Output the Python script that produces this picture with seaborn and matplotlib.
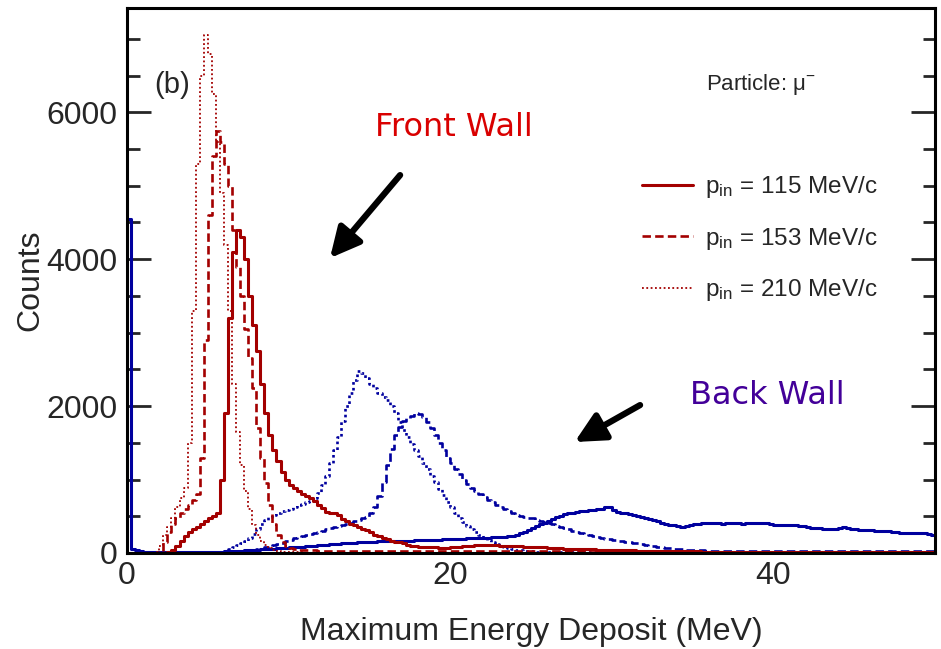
import numpy as np
import pandas as pd
import seaborn as sns
import matplotlib
matplotlib.use("Agg")
import matplotlib.pyplot as plt
from matplotlib.lines import Line2D
from matplotlib.ticker import MultipleLocator

# ---------------- data (counts per 0.25 MeV bin, 0 - 50 MeV) ----------------
BIN_WIDTH = 0.25
E_MAX = 50.0

front_115 = [
    0, 0, 0, 0, 0, 0, 0, 0, 0, 0, 10, 40, 100, 170, 230, 280, 330, 360, 400, 430,
    470, 500, 540, 1000, 1900, 3200, 4100, 4400, 4300, 4000, 3500, 3100, 2750, 2300, 1900, 1600, 1400, 1250, 1100, 1000,
    930, 880, 850, 810, 780, 750, 710, 660, 610, 560, 540, 550, 520, 460, 430, 400, 380, 360, 330, 310,
    280, 250, 230, 210, 190, 170, 155, 145, 130, 115, 100, 90, 85, 80, 80, 75, 75, 70, 70, 70,
    75, 80, 85, 90, 95, 100, 105, 110, 110, 110, 105, 105, 100, 100, 95, 95, 90, 90, 85, 85,
    80, 80, 75, 75, 70, 70, 65, 65, 60, 60, 55, 55, 55, 50, 50, 50, 45, 45, 45, 40,
    40, 40, 35, 35, 35, 35, 30, 30, 30, 30, 30, 25, 25, 25, 25, 25, 25, 25, 22, 22,
    22, 22, 20, 20, 20, 20, 20, 20, 18, 18, 18, 18, 18, 18, 16, 16, 16, 16, 15, 15,
    15, 15, 15, 15, 14, 14, 14, 14, 13, 13, 13, 13, 12, 12, 12, 12, 12, 12, 11, 11,
    11, 11, 10, 10, 10, 10, 10, 10, 9, 9, 9, 9, 8, 8, 8, 8, 8, 8, 7, 7,
]

front_153 = [
    0, 0, 0, 0, 0, 0, 0, 0, 30, 150, 280, 400, 480, 550, 600, 660, 720, 800, 1300, 2900,
    4600, 5400, 5750, 5600, 5300, 5000, 4400, 3900, 3500, 3050, 2650, 2250, 1700, 1300, 950, 650, 400, 250, 150, 100,
    70, 55, 45, 40, 38, 36, 35, 34, 33, 32, 32, 31, 31, 30, 30, 30, 30, 29, 29, 29,
    28, 28, 28, 28, 27, 27, 27, 27, 26, 26, 26, 26, 26, 25, 25, 25, 25, 25, 25, 25,
    25, 25, 24, 24, 24, 24, 24, 24, 24, 23, 23, 23, 23, 23, 23, 23, 22, 22, 22, 22,
    22, 22, 22, 22, 22, 21, 21, 21, 21, 21, 21, 21, 21, 20, 20, 20, 20, 20, 20, 20,
    20, 20, 20, 20, 20, 19, 19, 19, 19, 19, 19, 19, 19, 19, 19, 19, 18, 18, 18, 18,
    18, 18, 18, 18, 18, 18, 18, 18, 17, 17, 17, 17, 17, 17, 17, 17, 17, 17, 17, 17,
    16, 16, 16, 16, 16, 16, 16, 16, 16, 16, 16, 16, 15, 15, 15, 15, 15, 15, 15, 15,
    15, 15, 15, 15, 15, 15, 15, 15, 14, 14, 14, 14, 14, 14, 14, 14, 14, 14, 14, 14,
]

front_210 = [
    0, 0, 0, 0, 0, 0, 0, 20, 100, 250, 350, 480, 620, 750, 880, 1500, 3300, 5300, 6500, 7050,
    6800, 6250, 5600, 4900, 4200, 3300, 2300, 1650, 1200, 850, 600, 380, 250, 170, 110, 70, 40, 30, 20, 15,
    12, 10, 8, 8, 6, 6, 5, 5, 5, 4, 4, 4, 3, 3, 3, 3, 2, 2, 2, 2,
    2, 2, 2, 2, 1, 1, 1, 1, 1, 1, 1, 1, 1, 1, 1, 1, 1, 1, 1, 1,
    0, 0, 0, 0, 0, 0, 0, 0, 0, 0, 0, 0, 0, 0, 0, 0, 0, 0, 0, 0,
    0, 0, 0, 0, 0, 0, 0, 0, 0, 0, 0, 0, 0, 0, 0, 0, 0, 0, 0, 0,
    0, 0, 0, 0, 0, 0, 0, 0, 0, 0, 0, 0, 0, 0, 0, 0, 0, 0, 0, 0,
    0, 0, 0, 0, 0, 0, 0, 0, 0, 0, 0, 0, 0, 0, 0, 0, 0, 0, 0, 0,
    0, 0, 0, 0, 0, 0, 0, 0, 0, 0, 0, 0, 0, 0, 0, 0, 0, 0, 0, 0,
    0, 0, 0, 0, 0, 0, 0, 0, 0, 0, 0, 0, 0, 0, 0, 0, 0, 0, 0, 0,
]

back_115 = [
    4550, 60, 40, 30, 20, 15, 15, 15, 12, 12, 10, 10, 10, 10, 10, 10, 10, 10, 12, 12,
    15, 15, 18, 20, 22, 25, 28, 30, 32, 35, 38, 40, 45, 48, 52, 56, 60, 64, 68, 72,
    76, 80, 84, 88, 92, 96, 100, 105, 110, 114, 118, 122, 126, 130, 134, 138, 142, 146, 150, 154,
    155, 156, 158, 160, 162, 163, 165, 166, 168, 169, 170, 172, 173, 175, 176, 178, 180, 182, 184, 186,
    188, 190, 193, 196, 198, 200, 203, 205, 208, 210, 212, 215, 218, 222, 228, 238, 250, 268, 290, 315,
    340, 365, 390, 415, 440, 465, 490, 510, 525, 540, 550, 560, 570, 575, 585, 590, 600, 605, 620, 630,
    580, 560, 550, 540, 530, 520, 505, 490, 475, 460, 445, 430, 415, 400, 385, 375, 365, 360, 370, 385,
    395, 400, 405, 404, 404, 410, 405, 400, 410, 415, 410, 405, 400, 405, 410, 405, 410, 412, 405, 395,
    385, 380, 382, 378, 380, 376, 372, 368, 355, 345, 338, 335, 330, 325, 322, 328, 340, 348, 345, 330,
    320, 315, 312, 310, 308, 306, 302, 300, 295, 288, 280, 272, 268, 270, 275, 278, 276, 270, 260, 245,
]

back_153 = [
    0, 0, 0, 0, 0, 0, 0, 0, 0, 0, 0, 0, 0, 0, 0, 0, 0, 0, 0, 0,
    0, 0, 0, 0, 0, 0, 0, 5, 10, 20, 30, 40, 50, 60, 75, 90, 105, 120, 140, 160,
    180, 200, 215, 230, 245, 260, 275, 290, 305, 320, 335, 350, 365, 380, 400, 415, 430, 450, 470, 490,
    540, 630, 780, 960, 1200, 1420, 1600, 1720, 1800, 1840, 1870, 1900, 1890, 1850, 1780, 1700, 1600, 1500, 1400, 1300,
    1220, 1140, 1080, 1000, 940, 880, 840, 800, 760, 720, 690, 660, 630, 600, 570, 550, 520, 500, 490, 480,
    470, 450, 430, 420, 410, 390, 370, 350, 335, 320, 305, 290, 275, 260, 245, 235, 220, 205, 195, 185,
    177, 170, 160, 150, 145, 135, 130, 120, 110, 100, 95, 88, 80, 72, 65, 58, 52, 48, 44, 40,
    38, 36, 35, 33, 32, 31, 31, 30, 30, 30, 29, 29, 29, 29, 28, 28, 28, 28, 28, 28,
    28, 29, 29, 30, 30, 30, 31, 31, 31, 31, 32, 32, 32, 32, 31, 31, 31, 30, 30, 30,
    30, 30, 31, 31, 31, 32, 32, 32, 32, 32, 31, 31, 31, 31, 30, 30, 30, 30, 30, 30,
]

back_210 = [
    0, 0, 0, 0, 0, 0, 0, 0, 0, 0, 0, 0, 0, 0, 0, 0, 0, 0, 0, 0,
    0, 0, 0, 0, 20, 50, 80, 110, 140, 170, 200, 260, 330, 400, 450, 490, 520, 550, 570, 590,
    600, 620, 650, 670, 690, 710, 750, 820, 920, 1050, 1220, 1400, 1580, 1800, 2000, 2180, 2350, 2480, 2450, 2380,
    2300, 2240, 2180, 2130, 2080, 2000, 1900, 1780, 1680, 1580, 1480, 1400, 1320, 1230, 1140, 1050, 960, 870, 790, 700,
    620, 550, 480, 420, 370, 320, 280, 240, 210, 180, 150, 120, 95, 80, 65, 50, 42, 36, 30, 26,
    22, 20, 18, 16, 15, 14, 13, 12, 12, 11, 11, 10, 10, 10, 9, 9, 9, 8, 8, 8,
    8, 8, 7, 7, 7, 7, 6, 6, 6, 6, 6, 6, 5, 5, 5, 5, 5, 5, 5, 5,
    5, 5, 5, 5, 4, 4, 4, 4, 4, 4, 4, 4, 4, 4, 4, 4, 4, 4, 4, 4,
    4, 4, 4, 4, 3, 3, 3, 3, 3, 3, 3, 3, 3, 3, 3, 3, 3, 3, 3, 3,
    3, 3, 3, 3, 3, 3, 3, 3, 3, 3, 3, 3, 3, 3, 3, 3, 3, 3, 3, 3,
]

momenta = ["115", "153", "210"]
legend_labels = [r"p$_{\rm in}$ = %s MeV/c" % p for p in momenta]

# ---------------- style ----------------
sns.set_style("white")
plt.rcParams["font.family"] = ["Liberation Sans", "DejaVu Sans"]
plt.rcParams["mathtext.fontset"] = "custom"
plt.rcParams["mathtext.rm"] = "Liberation Sans"
plt.rcParams["mathtext.it"] = "Liberation Sans:italic"
plt.rcParams["mathtext.bf"] = "Liberation Sans:bold"

RED = "#a30000"
BLUE = "#00009e"

n_bins = len(front_115)
centers = (np.arange(n_bins) + 0.5) * BIN_WIDTH

rows = []
for wall, series in (("back", [back_115, back_153, back_210]),
                     ("front", [front_115, front_153, front_210])):
    for p, vals in zip(momenta, series):
        for c, v in zip(centers, vals):
            rows.append({"wall": wall, "p": p, "E": c, "counts": v})
df = pd.DataFrame(rows)

styles = {
    "115": dict(linestyle="-", linewidth=2.2),
    "153": dict(linestyle=(0, (3.2, 1.6)), linewidth=1.9),
    "210": dict(linestyle=(0, (1.0, 1.4)), linewidth=1.3),
}

fig = plt.figure(figsize=(9.41, 6.49), dpi=100)
ax = fig.add_axes([127 / 941, (649 - 553) / 649, (935 - 127) / 941, (553 - 8) / 649])

for wall, color in (("back", BLUE), ("front", RED)):
    for p in momenta:
        sub = df[(df["wall"] == wall) & (df["p"] == p)]
        st = dict(styles[p])
        if wall == "back" and p == "210":
            st = dict(linestyle=(0, (1.0, 1.2)), linewidth=1.9)
        sns.histplot(data=sub, x="E", weights="counts", binwidth=BIN_WIDTH,
                     binrange=(0, E_MAX), element="step", fill=False,
                     color=color, ax=ax, **st)

ax.set_xlim(0, 50)
ax.set_ylim(0, 7420)

ax.xaxis.set_major_locator(MultipleLocator(20))
ax.xaxis.set_minor_locator(MultipleLocator(5))
ax.yaxis.set_major_locator(MultipleLocator(2000))
ax.yaxis.set_minor_locator(MultipleLocator(500))
ax.tick_params(axis="y", which="major", direction="in", length=17, width=2,
               right=True, left=True, labelsize=23, pad=7)
ax.tick_params(axis="y", which="minor", direction="in", length=9, width=2,
               right=True, left=True)
ax.tick_params(axis="x", which="major", direction="in", length=11, width=2,
               labelsize=23, pad=6, top=False)
ax.tick_params(axis="x", which="minor", direction="in", length=5, width=1.5, top=False)
for s in ax.spines.values():
    s.set_linewidth(2.2)
    s.set_color("black")
    s.set_visible(True)

ax.set_xlabel("Maximum Energy Deposit (MeV)", fontsize=23)
ax.set_ylabel("Counts", fontsize=23)
ax.xaxis.set_label_coords(0.5, -0.145)
ax.xaxis.label.set_va("center")
ax.yaxis.set_label_coords(-0.12, 0.5)
ax.yaxis.label.set_va("center")

# legend
handles = [Line2D([], [], color=RED, **styles[p]) for p in momenta]
ax.legend(handles, legend_labels, loc="upper left", bbox_to_anchor=(0.637, 0.695),
          frameon=False, fontsize=17.5, handlelength=2.1, handletextpad=0.5,
          labelspacing=1.05, borderpad=0, borderaxespad=0)

ax.text(2.8, 6370, "(b)", fontsize=21, ha="center", va="center")
ax.text(35.8, 6383, r"Particle: μ$^{-}$", fontsize=16, ha="left", va="center")

ax.text(20.2, 5790, "Front Wall", fontsize=23, color="#d90000", ha="center", va="center",
        family=["DejaVu Sans"])
ax.text(39.6, 2150, "Back Wall", fontsize=23, color="#430099", ha="center", va="center",
        family=["DejaVu Sans"])

arrow = dict(arrowstyle="-|>,head_length=0.6,head_width=0.3", lw=4.5, color="black",
             shrinkA=0, shrinkB=0, mutation_scale=30)
ax.annotate("", xy=(12.56, 4015), xytext=(16.9, 5145), arrowprops=arrow)
ax.annotate("", xy=(27.7, 1511), xytext=(31.75, 2014), arrowprops=arrow)

fig.savefig("out.png", dpi=100)
